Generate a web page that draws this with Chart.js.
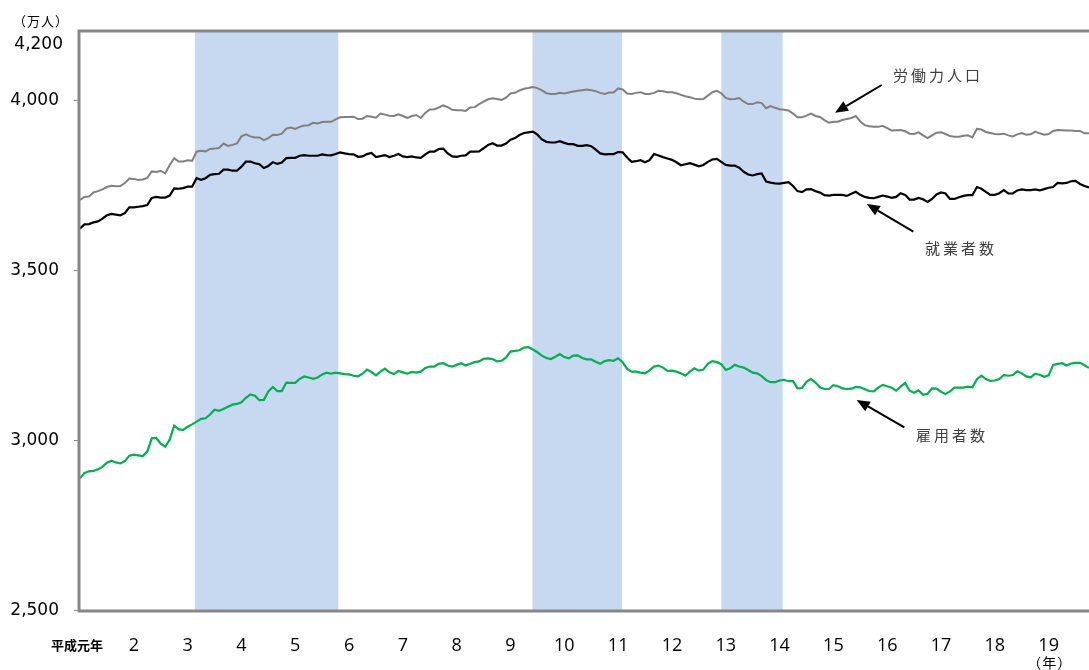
<!DOCTYPE html>
<html><head><meta charset="utf-8">
<script src="https://cdn.jsdelivr.net/npm/chart.js@4/dist/chart.umd.min.js"></script>
<style>html,body{margin:0;padding:0;background:#fff;overflow:hidden}#wrap{position:relative;width:1089px;height:670px}</style>
</head><body><div id="wrap"><canvas id="c"></canvas></div>
<script>
// 労働力人口 (monthly, 平成元年1月 = index 0)
const laborForce=[
3706,3715,3716,3728,3732,3737,3744,3748,3746,3747,
3756,3769,3768,3765,3766,3771,3790,3788,3792,3784,
3809,3829,3819,3819,3823,3821,3848,3851,3849,3856,
3857,3859,3872,3865,3868,3872,3893,3899,3893,3890,
3890,3882,3888,3898,3897,3901,3916,3919,3915,3921,
3925,3926,3933,3931,3935,3936,3936,3943,3949,3950,
3950,3951,3944,3945,3953,3951,3948,3960,3957,3954,
3953,3958,3953,3947,3953,3956,3947,3962,3972,3973,
3978,3984,3979,3971,3970,3970,3968,3978,3979,3988,
3995,4002,4005,4003,4000,4007,4019,4021,4028,4033,
4035,4038,4035,4028,4020,4018,4018,4021,4019,4022,
4025,4027,4029,4031,4029,4026,4021,4018,4022,4022,
4034,4031,4019,4018,4021,4023,4018,4018,4021,4027,
4026,4023,4023,4020,4015,4011,4008,4004,4002,4003,
4013,4023,4027,4020,4006,4002,4003,4006,3995,3988,
3988,3993,3991,3976,3982,3977,3973,3971,3969,3960,
3949,3949,3954,3960,3953,3950,3941,3933,3936,3936,
3941,3944,3947,3953,3937,3926,3923,3921,3921,3924,
3917,3910,3911,3912,3908,3901,3900,3905,3896,3888,
3896,3904,3905,3900,3894,3892,3892,3895,3896,3890,
3915,3913,3906,3903,3900,3899,3901,3896,3893,3899,
3903,3898,3899,3907,3902,3898,3900,3909,3912,3911,
3910,3910,3909,3909,3902,3902];
// 就業者数
const employed=[
3622,3634,3635,3640,3643,3651,3661,3665,3663,3661,
3667,3684,3684,3686,3688,3691,3712,3715,3713,3713,
3719,3740,3739,3741,3745,3745,3770,3765,3770,3780,
3782,3783,3795,3795,3792,3792,3804,3819,3819,3814,
3811,3800,3806,3817,3812,3816,3829,3830,3830,3836,
3838,3836,3836,3836,3840,3838,3837,3841,3846,3843,
3841,3840,3833,3834,3841,3844,3832,3835,3838,3832,
3836,3841,3834,3832,3834,3831,3830,3840,3848,3848,
3856,3857,3843,3834,3833,3836,3837,3848,3848,3849,
3858,3868,3873,3866,3866,3872,3883,3888,3897,3903,
3905,3907,3898,3884,3877,3875,3875,3879,3874,3870,
3870,3865,3865,3867,3864,3854,3843,3840,3841,3841,
3847,3846,3831,3818,3820,3823,3817,3823,3841,3837,
3832,3828,3824,3817,3808,3811,3814,3810,3805,3809,
3818,3825,3827,3818,3809,3807,3807,3801,3789,3781,
3778,3782,3784,3760,3757,3755,3754,3756,3758,3747,
3732,3729,3737,3738,3732,3728,3720,3719,3721,3721,
3721,3718,3724,3730,3721,3715,3712,3711,3715,3719,
3716,3712,3715,3726,3721,3707,3707,3712,3708,3700,
3709,3722,3728,3725,3709,3709,3714,3718,3720,3720,
3744,3739,3730,3721,3721,3726,3735,3725,3725,3734,
3737,3735,3735,3737,3734,3738,3742,3744,3756,3755,
3756,3761,3762,3753,3747,3743];
// 雇用者数
const employees=[
2887,2903,2908,2909,2914,2921,2933,2939,2934,2931,
2938,2954,2957,2955,2953,2966,3005,3006,2989,2980,
3001,3042,3031,3030,3039,3046,3054,3062,3064,3075,
3089,3086,3091,3098,3104,3106,3111,3124,3134,3130,
3117,3118,3143,3156,3144,3144,3169,3168,3168,3180,
3187,3184,3180,3184,3193,3198,3195,3198,3196,3194,
3193,3189,3187,3195,3207,3200,3190,3201,3210,3199,
3194,3203,3199,3195,3200,3198,3201,3212,3216,3216,
3224,3226,3219,3216,3221,3226,3219,3224,3229,3231,
3239,3240,3238,3231,3233,3243,3260,3262,3264,3272,
3273,3266,3258,3248,3241,3238,3245,3253,3244,3240,
3248,3249,3241,3237,3237,3230,3224,3232,3235,3233,
3240,3229,3209,3201,3201,3198,3196,3205,3216,3219,
3213,3203,3204,3201,3196,3189,3201,3211,3204,3207,
3224,3232,3229,3223,3206,3211,3221,3216,3213,3206,
3198,3196,3188,3176,3170,3170,3175,3177,3173,3173,
3152,3153,3171,3180,3169,3155,3150,3150,3161,3158,
3152,3150,3151,3156,3155,3149,3144,3143,3154,3162,
3158,3154,3145,3157,3168,3145,3139,3146,3133,3136,
3152,3151,3142,3135,3143,3154,3154,3154,3157,3155,
3179,3189,3179,3174,3175,3179,3191,3189,3191,3202,
3196,3187,3184,3195,3192,3186,3190,3221,3224,3226,
3219,3225,3227,3227,3220,3212];
const yearLabels=['平成元年','2','3','4','5','6','7','8','9','10','11','12','13','14','15','16','17','18','19'];
const yTicks=[2500,3000,3500,4000,4200];
// 景気後退期 (month index from 平成元年1月)
const recessions=[[25.6,57.6],[100.9,120.9],[143.0,156.7]];

const toPts=a=>a.map((v,i)=>({x:i,y:v}));

const deco={
  id:'deco',
  beforeDatasetsDraw(chart){
    const {ctx,chartArea:a,scales:{x}}=chart;
    ctx.save();
    ctx.fillStyle='#C6D9F0';
    recessions.forEach(([s,e])=>{
      const x0=x.getPixelForValue(s),x1=x.getPixelForValue(e);
      ctx.fillRect(x0,a.top,x1-x0,a.bottom-a.top);
    });
    ctx.restore();
  },
  afterDatasetsDraw(chart){
    const {ctx,chartArea:a,scales:{x,y}}=chart;
    ctx.save();
    // axes / frame
    ctx.strokeStyle='#878787';
    ctx.lineWidth=3;
    ctx.beginPath();
    ctx.moveTo(a.left-1,a.top-1);ctx.lineTo(a.right+2,a.top-1);
    ctx.moveTo(a.left-1,a.top-2.5);ctx.lineTo(a.left-1,a.bottom+2.5);
    ctx.moveTo(a.left-2.5,a.bottom+1);ctx.lineTo(a.right+2,a.bottom+1);
    ctx.stroke();
    // y tick marks
    ctx.lineWidth=1.2;
    ctx.beginPath();
    yTicks.slice(0,4).forEach(v=>{const py=Math.round(y.getPixelForValue(v))+0.5;ctx.moveTo(a.left-6,py);ctx.lineTo(a.left-2,py);});
    ctx.stroke();
    // y labels
    ctx.fillStyle='#000';
    ctx.font="17px 'DejaVu Sans'";
    ctx.textAlign='right';ctx.textBaseline='middle';
    yTicks.forEach(v=>{
      const t=v.toLocaleString('en-US');
      if(v===4200){ctx.fillText(t,a.left-17,y.getPixelForValue(v)+13);}
      else ctx.fillText(t,a.left-21,y.getPixelForValue(v)+1);
    });
    ctx.font="13px 'Noto Sans CJK JP'";
    ctx.textAlign='left';
    ctx.letterSpacing='1px';
    ctx.fillText('（万人）',13,21);
    ctx.letterSpacing='0px';
    // x labels
    ctx.textAlign='center';
    yearLabels.forEach((l,k)=>{
      const px=x.getPixelForValue(k*12);
      if(k===0){ctx.font="bold 13px 'Noto Sans CJK JP'";ctx.fillText(l,px-3,645);}
      else{ctx.font="18px 'Open Sans'";ctx.fillText(l,px,646);}
    });
    ctx.font="14px 'Noto Sans CJK JP'";
    ctx.letterSpacing='1px';
    ctx.fillText('（年）',x.getPixelForValue(216)+1,663);
    // annotations
    const notes=[
      ['労働力人口',893,75,[881.7,85],[835,112.7]],
      ['就業者数',925,248,[913.3,231.7],[866.7,204]],
      ['雇用者数',916,435,[904.3,427.3],[856.7,400]]
    ];
    ctx.font="15px 'Noto Sans CJK JP'";
    ctx.textAlign='left';
    ctx.fillStyle='#404040';
    ctx.letterSpacing='3px';
    notes.forEach(([t,tx,ty,p0,p1])=>{
      ctx.fillText(t,tx,ty);
      const ang=Math.atan2(p1[1]-p0[1],p1[0]-p0[0]);
      const hl=13,hw=5.5;
      const bx=p1[0]-hl*Math.cos(ang),by=p1[1]-hl*Math.sin(ang);
      ctx.strokeStyle='#000';ctx.lineWidth=2;
      ctx.beginPath();ctx.moveTo(p0[0],p0[1]);ctx.lineTo(bx,by);ctx.stroke();
      ctx.fillStyle='#000';
      ctx.beginPath();
      ctx.moveTo(p1[0],p1[1]);
      ctx.lineTo(bx+hw*Math.sin(ang),by-hw*Math.cos(ang));
      ctx.lineTo(bx-hw*Math.sin(ang),by+hw*Math.cos(ang));
      ctx.closePath();ctx.fill();
      ctx.fillStyle='#404040';
    });
    ctx.restore();
  }
};

new Chart(document.getElementById('c'),{
  type:'line',
  data:{datasets:[
    {label:'労働力人口',data:toPts(laborForce),borderColor:'#808080',borderWidth:2,pointRadius:0,tension:0},
    {label:'就業者数',data:toPts(employed),borderColor:'#000000',borderWidth:2.2,pointRadius:0,tension:0},
    {label:'雇用者数',data:toPts(employees),borderColor:'#00B050',borderWidth:2.2,pointRadius:0,tension:0}
  ]},
  options:{
    responsive:true,maintainAspectRatio:false,animation:false,
    layout:{padding:{left:80,top:32,right:0,bottom:60}},
    plugins:{legend:{display:false},tooltip:{enabled:false}},
    scales:{
      x:{type:'linear',min:0,max:225,display:false},
      y:{type:'linear',min:2500,max:4200,display:false}
    }
  },
  plugins:[deco]
});
</script></body></html>
